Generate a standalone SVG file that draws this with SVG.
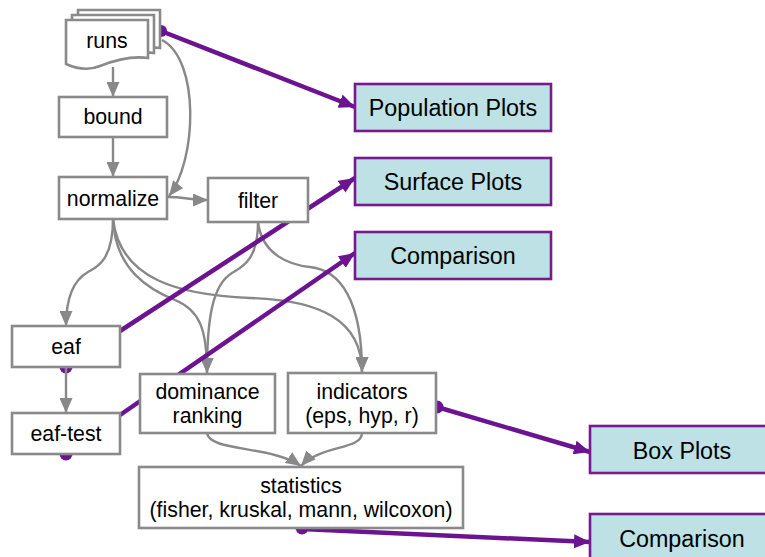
<svg xmlns="http://www.w3.org/2000/svg" xmlns:xlink="http://www.w3.org/1999/xlink" width="765" height="557" viewBox="0 0 765 557">
<style>
.box{fill:#ffffff;stroke:#8a8a8a;stroke-width:2.6}
.out{fill:#bde1e4;stroke:#78198f;stroke-width:2.6}
.t{font-family:"Liberation Sans",Arial,sans-serif;font-size:21.3px;fill:#000;text-anchor:middle}
.to{font-family:"Liberation Sans",Arial,sans-serif;font-size:23.3px;fill:#000;text-anchor:middle}
.g{fill:none;stroke:#888888;stroke-width:2.4;marker-end:url(#ga)}
.p{fill:none;stroke:#6c1490;stroke-width:4.5;marker-end:url(#pa)}
.dot{fill:#6c1490}
</style>
<defs>
<marker id="ga" markerUnits="userSpaceOnUse" markerWidth="15" markerHeight="13" refX="15" refY="6.5" orient="auto"><path d="M0,0 L15,6.5 L0,13 z" fill="#888888"/></marker>
<marker id="pa" markerUnits="userSpaceOnUse" markerWidth="16" markerHeight="14" refX="16" refY="7" orient="auto"><path d="M0,0 L16,7 L0,14 z" fill="#6c1490"/></marker>
<path id="doc" d="M0,0 H82 V38 C62,35 44,42 34,46 C22,51 11,49 0,44 Z"/>
</defs>
<g id="connectors">
<circle class="dot" cx="161" cy="31" r="6"/>
<circle class="dot" cx="66" cy="367" r="6.5"/>
<circle class="dot" cx="66" cy="454" r="6.5"/>
<circle class="dot" cx="437" cy="407" r="6.5"/>
<circle class="dot" cx="302" cy="528" r="6.5"/>
<path class="g" d="M113,67 V97"/>
<path class="g" d="M113,137 V177"/>
<path class="g" d="M162,40 C200,60 197,160 169,196"/>
<path class="g" d="M168,197 C185,197 190,200 208,200"/>
<path class="g" d="M113,219 C113,262 95,268 88,272 C72,281 66,300 66,326"/>
<path class="g" d="M113,219 C115,270 150,290 175,300 C200,310 207,330 207,373"/>
<path class="g" d="M113,219 C120,280 180,295 250,298 C320,300 362,320 362,372"/>
<path class="g" d="M258,222 C258,262 240,268 232,273 C212,285 207,320 207,373"/>
<path class="g" d="M258,222 C262,255 290,265 310,267 C340,270 362,300 362,372"/>
<path class="g" d="M66,367 V413"/>
<path class="g" d="M207,433 C210,452 270,445 301,466"/>
<path class="g" d="M362,433 C362,450 320,445 301,466"/>
<path class="p" d="M161,31 L355,107"/>
<path class="p" d="M120,331 L355,178"/>
<path class="p" d="M120,415 L355,253"/>
<path class="p" d="M437,407 L590,452"/>
<path class="p" d="M302,529 L590,542"/>
</g>
<g id="runs">
<use xlink:href="#doc" x="78" y="10" class="box"/>
<use xlink:href="#doc" x="72" y="15" class="box"/>
<use xlink:href="#doc" x="66" y="20" class="box"/>
<text class="t" x="107" y="48">runs</text>
</g>
<g id="bound"><rect class="box" x="59" y="97" width="108" height="40"/><text class="t" x="113" y="124">bound</text></g>
<g id="normalize"><rect class="box" x="59" y="177" width="108" height="42"/><text class="t" x="113" y="206">normalize</text></g>
<g id="filter"><rect class="box" x="208" y="178" width="100" height="44"/><text class="t" x="258" y="208">filter</text></g>
<g id="eaf"><rect class="box" x="12" y="326" width="108" height="41"/><text class="t" x="66" y="354">eaf</text></g>
<g id="eaf-test"><rect class="box" x="12" y="413" width="108" height="41"/><text class="t" x="66" y="441">eaf-test</text></g>
<g id="dominance"><rect class="box" x="140" y="374" width="135" height="59"/><text class="t" x="207.5" y="399">dominance</text><text class="t" x="207.5" y="423">ranking</text></g>
<g id="indicators"><rect class="box" x="288" y="373" width="148" height="60"/><text class="t" x="362" y="399">indicators</text><text class="t" x="362" y="423">(eps, hyp, r)</text></g>
<g id="statistics"><rect class="box" x="139" y="467" width="324" height="61"/><text class="t" x="301" y="493">statistics</text><text class="t" x="301" y="517">(fisher, kruskal, mann, wilcoxon)</text></g>
<g id="population-plots"><rect class="out" x="355" y="84" width="196" height="47"/><text class="to" x="453" y="116">Population Plots</text></g>
<g id="surface-plots"><rect class="out" x="355" y="158" width="196" height="47"/><text class="to" x="453" y="190">Surface Plots</text></g>
<g id="comparison-1"><rect class="out" x="355" y="232" width="196" height="47"/><text class="to" x="453" y="264">Comparison</text></g>
<g id="box-plots"><rect class="out" x="590" y="426" width="196" height="47"/><text class="to" x="682" y="459">Box Plots</text></g>
<g id="comparison-2"><rect class="out" x="590" y="514" width="196" height="47"/><text class="to" x="682" y="547">Comparison</text></g>
</svg>
